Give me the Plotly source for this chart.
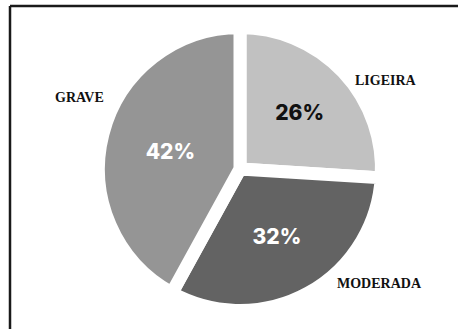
import plotly.graph_objects as go

labels = ["LIGEIRA", "MODERADA", "GRAVE"]
values = [26, 32, 42]
colors = ["#c1c1c1", "#636363", "#959595"]
text_colors = ["#111111", "#ffffff", "#ffffff"]

W, H = 458, 329
cx, cy, r = 240, 169, 141.5

fig = go.Figure(go.Pie(
    labels=labels,
    values=values,
    sort=False,
    direction="clockwise",
    rotation=0,
    marker=dict(colors=colors, line=dict(color="white", width=13)),
    textinfo="percent",
    texttemplate="%{percent:.0%}",
    textposition="inside",
    insidetextorientation="horizontal",
    textfont=dict(family="Inter", size=21, color=text_colors, weight=800),
    showlegend=False,
    hoverinfo="label+percent",
    domain=dict(x=[(cx - r) / W, (cx + r) / W],
                y=[(H - cy - r) / H, (H - cy + r) / H]),
))

label_pos = {"GRAVE": (79.5, 97.5), "LIGEIRA": (386, 80), "MODERADA": (379, 283)}
for name in labels:
    x, y = label_pos[name]
    fig.add_annotation(x=x / W, y=1 - y / H, xref="paper", yref="paper",
                       xanchor="center", yanchor="middle",
                       text=name, showarrow=False,
                       font=dict(family="Liberation Serif", size=14, color="#111111", weight="bold"))

fig.add_shape(type="line", xref="paper", yref="paper", x0=10 / W, x1=1.05, y0=1 - 6 / H, y1=1 - 6 / H,
              line=dict(color="#1a1a1a", width=2.5))
fig.add_shape(type="line", xref="paper", yref="paper", x0=10 / W, x1=10 / W, y0=1 - 6 / H, y1=-0.05,
              line=dict(color="#1a1a1a", width=2.5))

fig.update_layout(width=W, height=H, margin=dict(l=0, r=0, t=0, b=0),
                  paper_bgcolor="white", plot_bgcolor="white")
fig.write_html("out.html")
